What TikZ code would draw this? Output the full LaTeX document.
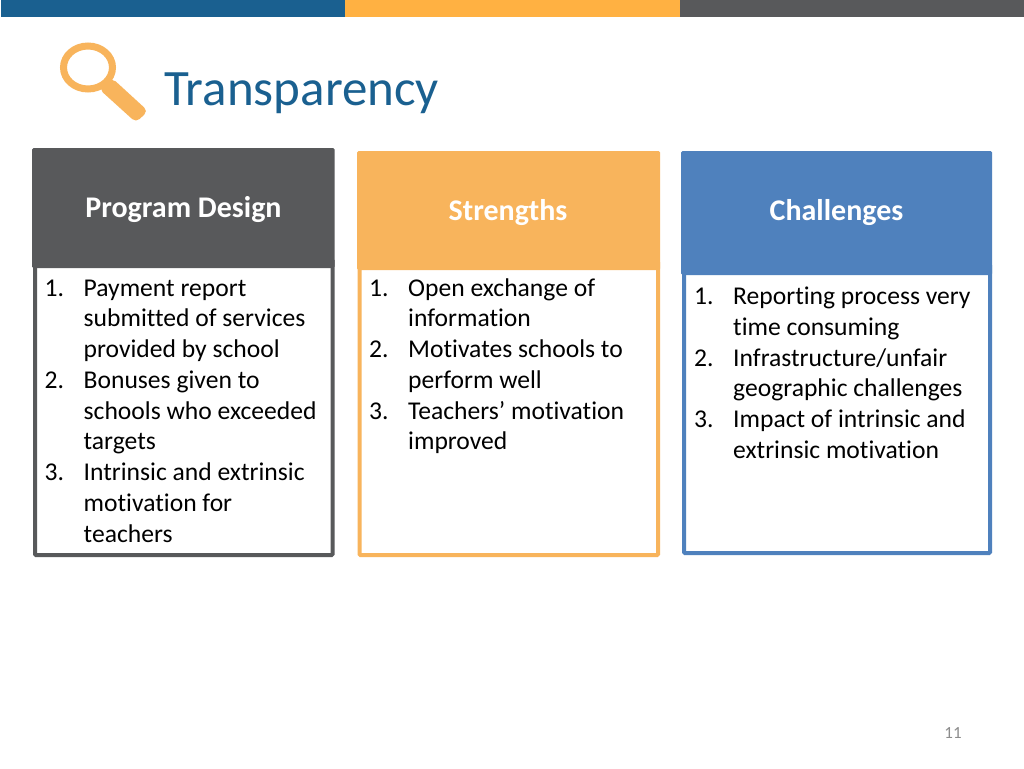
\documentclass[tikz,border=0pt]{standalone}
\usepackage{fontspec}
\setmainfont[Ligatures=NoCommon]{Carlito}
\definecolor{cblue}{HTML}{1A6090}
\definecolor{corange}{HTML}{FFB142}
\definecolor{cbar}{HTML}{58595B}
\definecolor{lorange}{HTML}{F8B45C}
\definecolor{lblue}{HTML}{4F81BD}
\newcommand{\itm}[2]{\hbox{\makebox[39pt][l]{#1}#2}}
\newcommand{\lst}[1]{\vtop{\baselineskip=30.75pt\lineskiplimit=-100pt #1}}
\tikzset{
 x=1pt,y=-1pt,
 panel/.style={fill=white,line width=4pt,rounded corners=1pt},
 head/.style={rounded corners=1.5pt},
 headtxt/.style={text=white,font=\fontsize{30}{36}\selectfont\bfseries,inner sep=0pt,anchor=base},
 listtxt/.style={anchor=base west,inner sep=0pt,font=\fontsize{25.6}{30.75}\selectfont,text=black},
}
\begin{document}
\begin{tikzpicture}
\useasboundingbox (0,0) rectangle (1024,768);
\fill[white] (0,0) rectangle (1024,768);
\fill[cblue] (1,0) rectangle (345,17.5);
\fill[corange] (345,0) rectangle (680,17.5);
\fill[cbar] (680,0) rectangle (1024,17.5);
% magnifier
\draw[lorange,line width=7pt] (88,67.5) ellipse (24.5 and 21.5);
\fill[lorange,rounded corners=5pt] (112,78) -- (148,111) -- (136,122.5) -- (99,89) -- cycle;
\node[anchor=base west,inner sep=0pt,text=cblue,font=\fontsize{51}{60}\selectfont] (title) at (164,105) {Transparency};
% panels
\draw[cbar,panel] (35,260) rectangle (332.5,555);
\fill[cbar,head] (32,148) rectangle (334.5,268);
\draw[lorange,panel] (359.5,262) rectangle (658,555);
\fill[lorange,head] (357,151) rectangle (660,270);
\draw[lblue,panel] (684,265) rectangle (990,553);
\fill[lblue,head] (681,151) rectangle (992,275);
\node[headtxt] (h1) at (183.5,217) {Program Design};
\node[headtxt] (h2) at (508,220) {Strengths};
\node[headtxt] (h3) at (836.5,220) {Challenges};
\node[listtxt] (l1) at (44.5,296) {\lst{\itm{1.}{Payment report}\itm{}{submitted of services}\itm{}{provided by school}\itm{2.}{Bonuses given to}\itm{}{schools who exceeded}\itm{}{targets}\itm{3.}{Intrinsic and extrinsic}\itm{}{motivation for}\itm{}{teachers}}};
\node[listtxt] (l2) at (369,296) {\lst{\itm{1.}{Open exchange of}\itm{}{information}\itm{2.}{Motivates schools to}\itm{}{perform well}\itm{3.}{Teachers’ motivation}\itm{}{improved}}};
\node[listtxt] (l3) at (694,304.5) {\lst{\itm{1.}{Reporting process very}\itm{}{time consuming}\itm{2.}{Infrastructure/unfair}\itm{}{geographic challenges}\itm{3.}{Impact of intrinsic and}\itm{}{extrinsic motivation}}};
\node[anchor=base,inner sep=0pt,text=gray!90,font=\fontsize{17}{20}\selectfont] (num) at (953,738) {11};
\end{tikzpicture}
\end{document}
